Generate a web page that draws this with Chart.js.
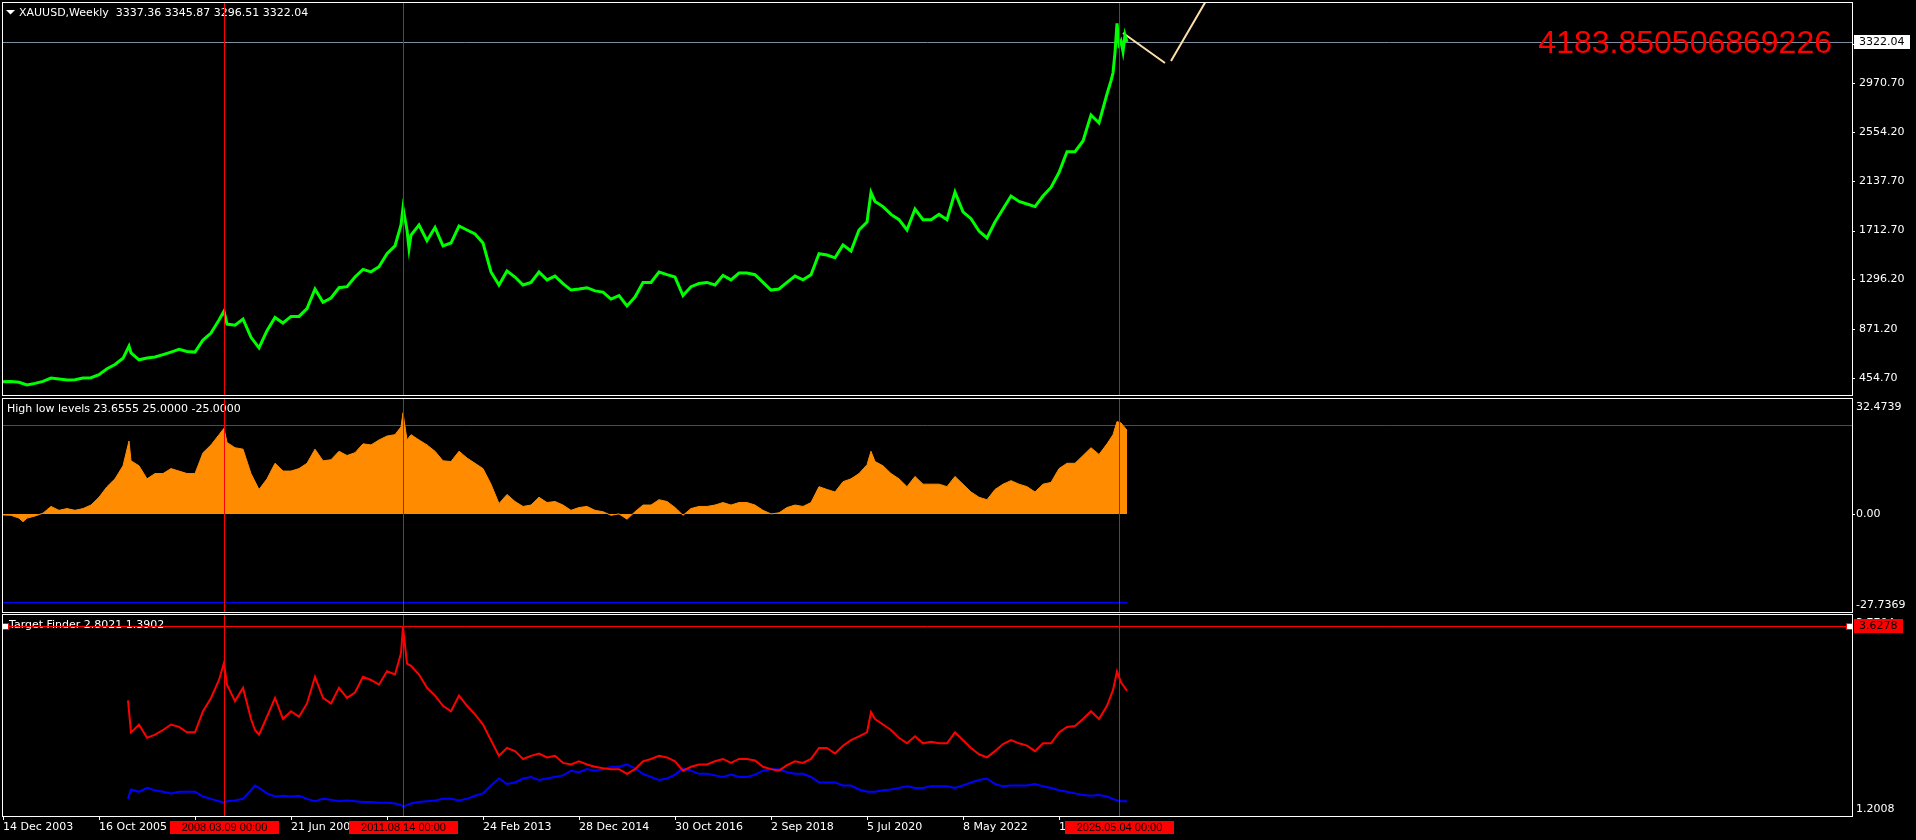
<!DOCTYPE html>
<html><head><meta charset="utf-8">
<script src="https://cdn.jsdelivr.net/npm/chart.js@4.4.1/dist/chart.umd.min.js"></script>
<style>
html,body{margin:0;padding:0;background:#000;width:1916px;height:840px;overflow:hidden}
canvas{position:absolute;left:0;display:block}
</style></head><body>
<canvas id="p1" width="1916" height="396" style="top:0px"></canvas>
<canvas id="p2" width="1916" height="218" style="top:396px"></canvas>
<canvas id="p3" width="1916" height="226" style="top:614px"></canvas>
<script>
// ---------- DATA ----------
const symbolTitle = "XAUUSD,Weekly";
const lastBarOHLC = [3337.36, 3345.87, 3296.51, 3322.04];

const priceWeeks = [0,8,16,24,32,40,48,56,64,72,80,88,96,104,112,120,126,128,136,144,152,160,168,176,184,192,200,208,216,221,224,232,240,248,256,264,272,280,288,296,304,312,320,328,336,344,352,360,368,376,384,392,398,400,404,406,408,416,424,432,440,448,456,464,472,480,488,496,504,512,520,528,536,544,552,560,568,576,584,592,600,608,616,624,632,640,648,656,664,672,680,688,696,704,712,720,728,736,744,752,760,768,776,784,792,800,808,816,824,832,840,848,856,864,868,872,880,888,896,904,912,920,928,936,944,952,960,968,976,984,992,1000,1008,1016,1024,1032,1040,1048,1056,1064,1072,1080,1088,1096,1104,1108,1110,1112,1114,1116,1118,1120,1122,1124];
const priceValues = [422,426,418,395,409,426,455,447,438,440,455,458,484,534,570,623,727,670,610,625,634,654,676,699,681,676,779,838,949,1026,915,906,958,802,712,859,971,924,980,980,1047,1214,1100,1137,1225,1234,1316,1381,1360,1404,1515,1582,1760,1905,1717,1560,1674,1760,1626,1738,1582,1606,1751,1717,1683,1606,1359,1248,1367,1316,1248,1270,1359,1292,1324,1260,1205,1214,1225,1198,1188,1128,1158,1069,1145,1270,1270,1359,1336,1316,1158,1234,1261,1270,1248,1330,1292,1350,1350,1336,1270,1205,1214,1270,1324,1292,1336,1515,1504,1480,1590,1538,1717,1785,2037,1961,1917,1850,1805,1717,1896,1805,1805,1850,1805,2040,1872,1814,1708,1649,1785,1896,2007,1961,1939,1917,2007,2080,2207,2385,2385,2476,2698,2630,2877,2990,3056,3230,3480,3300,3330,3240,3380,3322.04];
const priceRange = [310, 3653];
const priceTickValues = [454.7, 871.2, 1296.2, 1712.7, 2137.7, 2554.2, 2970.7, 3305.7];

const projWeeks = [1120, 1162, 1165, 1168, 1238];
const projValues = [3397, 3141, null, 3158, 4183.850506869226];
const targetText = "4183.850506869226";

const hlWeeks = [0,8,16,20,24,32,40,48,56,64,72,80,88,96,104,112,120,126,128,136,144,152,160,168,176,184,192,200,208,216,221,224,232,240,248,256,264,272,280,288,296,304,312,320,328,336,344,352,360,368,376,384,392,398,400,404,408,416,424,432,440,448,456,464,472,480,488,496,504,512,520,528,536,544,552,560,568,576,584,592,600,608,616,624,632,640,648,656,664,672,680,688,696,704,712,720,728,736,744,752,760,768,776,784,792,800,808,816,824,832,840,848,856,864,868,872,880,888,896,904,912,920,928,936,944,952,960,968,976,984,992,1000,1008,1016,1024,1032,1040,1048,1056,1064,1072,1080,1088,1096,1104,1110,1114,1118,1124];
const hlValues = [-0.3,-0.4,-1.2,-2.2,-1.2,-0.6,0.2,2.1,1.0,1.5,1.0,1.5,2.5,4.7,7.7,9.9,13.6,20.6,15.0,13.6,9.9,11.4,11.4,12.8,12.1,11.4,11.4,17.3,19.5,22.4,24.2,20.2,18.7,18.3,11.4,6.9,9.9,14.3,12.1,12.1,12.8,14.3,18.3,15.0,15.3,17.7,16.5,17.3,19.8,19.5,20.9,22.0,22.4,24.6,28.6,20.9,22.4,20.9,19.5,17.7,15.0,14.8,17.7,15.8,14.3,12.8,8.4,2.9,5.5,3.5,2.1,2.5,4.7,3.2,3.5,2.5,1.0,1.8,2.1,1.0,0.6,-0.4,0.0,-1.5,0.6,2.5,2.5,4.0,3.5,1.8,-0.4,1.5,2.1,2.1,2.5,3.2,2.5,3.2,3.2,2.5,1.0,0.0,0.3,1.8,2.5,2.1,3.2,7.7,6.9,6.2,9.1,9.9,11.4,13.9,17.7,14.8,13.6,11.4,9.9,7.7,10.6,8.4,8.4,8.4,7.7,10.6,8.4,6.2,4.7,4.0,6.9,8.4,9.4,8.4,7.7,6.2,8.4,8.9,12.8,14.3,14.3,16.5,18.7,16.8,19.8,22.4,26.1,25.7,23.6555];
const hlLevels = [25, -25];
const hlRange = [-27.7369, 32.4739];
const hlTickValues = [32.4739, 0, -27.7369];
const hlTickLabels = ["32.4739", "0.00", "-27.7369"];

const tfWeeks = [125,128,136,144,152,160,168,176,184,192,200,208,216,221,224,232,240,248,252,256,264,272,280,288,296,304,312,320,328,336,344,352,360,368,376,384,392,398,400,404,408,416,424,432,440,448,456,464,472,480,488,496,504,512,520,528,536,544,552,560,568,576,584,592,600,608,616,624,632,640,648,656,664,672,680,688,696,704,712,720,728,736,744,752,760,768,776,784,792,800,808,816,824,832,840,848,856,864,868,872,880,888,896,904,912,920,928,936,944,952,960,968,976,984,992,1000,1008,1016,1024,1032,1040,1048,1056,1064,1072,1080,1088,1096,1104,1110,1114,1118,1124];
const tfRed = [2.68,2.27,2.37,2.20,2.24,2.30,2.37,2.34,2.27,2.27,2.54,2.71,2.94,3.16,2.88,2.67,2.84,2.44,2.30,2.24,2.47,2.71,2.44,2.54,2.47,2.64,2.98,2.71,2.64,2.84,2.71,2.78,2.98,2.94,2.88,3.05,3.01,3.28,3.62,3.15,3.12,3.01,2.84,2.74,2.61,2.54,2.74,2.61,2.50,2.37,2.17,1.97,2.07,2.03,1.93,1.97,2.00,1.95,1.97,1.88,1.86,1.90,1.86,1.83,1.81,1.80,1.80,1.74,1.80,1.90,1.93,1.97,1.95,1.90,1.78,1.83,1.86,1.86,1.90,1.93,1.88,1.93,1.93,1.91,1.83,1.80,1.78,1.85,1.90,1.88,1.93,2.07,2.07,2.00,2.10,2.17,2.22,2.27,2.53,2.44,2.37,2.30,2.20,2.13,2.22,2.13,2.15,2.13,2.13,2.27,2.17,2.07,1.99,1.95,2.03,2.12,2.17,2.13,2.10,2.03,2.13,2.13,2.27,2.34,2.35,2.44,2.54,2.44,2.61,2.81,3.05,2.91,2.8021];
const tfBlue = [1.42,1.54,1.51,1.56,1.53,1.51,1.49,1.51,1.51,1.51,1.45,1.42,1.39,1.37,1.39,1.40,1.42,1.53,1.59,1.56,1.49,1.45,1.46,1.45,1.46,1.42,1.39,1.42,1.41,1.39,1.40,1.39,1.38,1.38,1.37,1.37,1.36,1.34,1.32,1.34,1.36,1.38,1.39,1.40,1.42,1.42,1.40,1.42,1.46,1.49,1.59,1.68,1.61,1.63,1.68,1.70,1.66,1.68,1.70,1.72,1.78,1.76,1.80,1.78,1.80,1.83,1.83,1.86,1.81,1.74,1.70,1.66,1.68,1.73,1.81,1.78,1.74,1.74,1.72,1.70,1.73,1.70,1.70,1.73,1.78,1.80,1.80,1.76,1.74,1.74,1.70,1.63,1.63,1.63,1.59,1.59,1.54,1.51,1.51,1.51,1.53,1.54,1.56,1.58,1.56,1.56,1.58,1.58,1.58,1.56,1.59,1.63,1.66,1.68,1.61,1.58,1.59,1.59,1.59,1.61,1.58,1.56,1.53,1.51,1.49,1.47,1.46,1.47,1.45,1.42,1.40,1.39,1.3902];
const tfLineLevel = 3.6278;
const tfRange = [1.2008, 3.7704];
const tfTickValues = [3.7704, 1.2008];
const tfTickLabels = ["3.7704", "1.2008"];

const markerWeeks = [221, 400, 1116];
const markerLabels = ["2008.03.09 00:00", "2011.08.14 00:00", "2025.05.04 00:00"];
const timeTickWeeks = [0,96,192,288,384,480,576,672,768,864,960,1056];
const timeTickLabels = ["14 Dec 2003","16 Oct 2005","19 Aug 2007","21 Jun 2009","24 Apr 2011","24 Feb 2013","28 Dec 2014","30 Oct 2016","2 Sep 2018","5 Jul 2020","8 May 2022","10 Mar 2024"];
const weekRange = [0, 1849];

// ---------- HELPERS ----------
const FONT = '11px "DejaVu Sans"';
const pts = (xs, ys) => xs.map((x, i) => ({x: x, y: ys[i]}));

function frame(chart) {
  const {ctx, chartArea: a} = chart;
  ctx.save(); ctx.strokeStyle = '#fff'; ctx.lineWidth = 1;
  ctx.strokeRect(a.left - 0.5, a.top - 0.5, a.right - a.left + 1, a.bottom - a.top + 1);
  ctx.restore();
}
function vlines(chart) {
  const {ctx, chartArea: a, scales: {x}} = chart;
  ctx.save(); ctx.strokeStyle = '#ff0000'; ctx.lineWidth = 1;
  markerWeeks.forEach(w => {
    const px = Math.round(x.getPixelForValue(w)) + 0.5;
    ctx.beginPath(); ctx.moveTo(px, a.top); ctx.lineTo(px, a.bottom); ctx.stroke();
  });
  ctx.restore();
}
function hline(chart, v, color, w0, w1) {
  const {ctx, chartArea: a, scales: {x, y}} = chart;
  const py = Math.round(y.getPixelForValue(v)) + 0.5;
  const x0 = w0 === undefined ? a.left : Math.max(a.left, x.getPixelForValue(w0));
  const x1 = w1 === undefined ? a.right : Math.min(a.right, x.getPixelForValue(w1));
  ctx.save(); ctx.strokeStyle = color; ctx.lineWidth = 1;
  ctx.beginPath(); ctx.moveTo(x0, py); ctx.lineTo(x1, py); ctx.stroke(); ctx.restore();
  return py;
}
function yLabels(chart, values, labels, tx) {
  const {ctx, chartArea: a, scales: {y}} = chart;
  ctx.save(); ctx.font = FONT; ctx.fillStyle = '#fff'; ctx.textBaseline = 'middle'; ctx.textAlign = 'left';
  values.forEach((v, i) => {
    const py = y.getPixelForValue(v);
    const cy = Math.min(Math.max(py, a.top + 8), a.bottom - 7);
    if (cy === py) ctx.fillRect(a.right + 1, Math.round(py), 2, 1);
    ctx.fillText(labels[i], tx, cy);
  });
  ctx.restore();
}
function text(ctx, s, x, y, color, font, align) {
  ctx.save(); ctx.font = font || FONT; ctx.fillStyle = color || '#fff';
  ctx.textBaseline = 'middle'; ctx.textAlign = align || 'left'; ctx.fillText(s, x, y); ctx.restore();
}
function valueBox(ctx, label, x0, x1, cy, bg) {
  ctx.save(); ctx.fillStyle = bg; ctx.fillRect(x0, Math.round(cy) - 7, x1 - x0, 14);
  ctx.font = FONT; ctx.fillStyle = '#000'; ctx.textBaseline = 'middle'; ctx.textAlign = 'left';
  ctx.fillText(label, x0 + 5, Math.round(cy)); ctx.restore();
}
function baseOptions(yMin, yMax, pad) {
  return {
    responsive: false, animation: false, devicePixelRatio: 1, events: [],
    layout: {padding: pad},
    plugins: {legend: {display: false}, tooltip: {enabled: false}},
    elements: {point: {radius: 0}, line: {tension: 0}},
    scales: {
      x: {type: 'linear', min: weekRange[0], max: weekRange[1], display: false},
      y: {type: 'linear', position: 'right', min: yMin, max: yMax,
          afterFit(s) { s.width = 64; },
          ticks: {display: false}, grid: {display: false}, border: {display: false}}
    }
  };
}

// ---------- PANEL 1: price ----------
new Chart(document.getElementById('p1'), {
  type: 'line',
  data: {datasets: [
    {data: pts(priceWeeks, priceValues), borderColor: '#00ff00', borderWidth: 3, pointRadius: 0},
    {data: pts(projWeeks, projValues), borderColor: '#ffdead', borderWidth: 2, pointRadius: 0, spanGaps: false}
  ]},
  options: baseOptions(priceRange[0], priceRange[1], {left: 3, top: 3, right: 0, bottom: 1}),
  plugins: [{
    id: 'mt1',
    beforeDatasetsDraw(chart) { hline(chart, lastBarOHLC[3], '#7f8fa0'); },
    afterDatasetsDraw(chart) {
      const ctx = chart.ctx;
      ctx.save(); ctx.fillStyle = '#fff'; ctx.beginPath();
      ctx.moveTo(6, 10); ctx.lineTo(15, 10); ctx.lineTo(10.5, 14.5); ctx.closePath(); ctx.fill(); ctx.restore();
      text(ctx, symbolTitle + '  ' + lastBarOHLC.map(v => v.toFixed(2)).join(' '), 19, 13);
      ctx.save(); ctx.font = '32px "Liberation Sans"'; ctx.fillStyle = '#ff0000';
      ctx.textAlign = 'right'; ctx.textBaseline = 'alphabetic'; ctx.fillText(targetText, 1832, 53); ctx.restore();
      vlines(chart);
    },
    afterDraw(chart) {
      frame(chart);
      yLabels(chart, priceTickValues, priceTickValues.map(v => v.toFixed(2)), 1859);
      valueBox(chart.ctx, lastBarOHLC[3].toFixed(2), 1854, 1910, chart.scales.y.getPixelForValue(lastBarOHLC[3]), '#fff');
    }
  }]
});

// ---------- PANEL 2: High low levels ----------
new Chart(document.getElementById('p2'), {
  type: 'line',
  data: {datasets: [
    {data: pts(hlWeeks, hlValues), borderColor: '#ff8c00', backgroundColor: '#ff8c00', fill: 'origin', borderWidth: 1, pointRadius: 0}
  ]},
  options: baseOptions(hlRange[0], hlRange[1], {left: 3, top: 3, right: 0, bottom: 2}),
  plugins: [{
    id: 'mt2',
    beforeDatasetsDraw(chart) {
      hline(chart, hlLevels[0], '#ff0000');
      hline(chart, hlLevels[1], '#0000ff', hlWeeks[0], hlWeeks[hlWeeks.length - 1]);
    },
    afterDatasetsDraw(chart) {
      text(chart.ctx, 'High low levels ' + hlValues[hlValues.length - 1].toFixed(4) + ' ' +
        hlLevels.map(v => v.toFixed(4)).join(' '), 7, 13);
      vlines(chart);
    },
    afterDraw(chart) {
      frame(chart);
      yLabels(chart, hlTickValues, hlTickLabels, 1856);
    }
  }]
});

// ---------- PANEL 3: Target Finder ----------
const opt3 = baseOptions(tfRange[0], tfRange[1], {left: 3, top: 1, right: 0, bottom: 0});
opt3.scales.x = {
  type: 'linear', min: weekRange[0], max: weekRange[1], position: 'bottom',
  afterBuildTicks(s) { s.ticks = timeTickWeeks.map(v => ({value: v})); },
  afterFit(s) { s.height = 24; },
  ticks: {color: '#fff', font: {family: 'DejaVu Sans', size: 11}, align: 'start', padding: 1,
          autoSkip: false, maxRotation: 0, minRotation: 0, callback: (v, i) => timeTickLabels[i]},
  grid: {display: true, drawOnChartArea: false, drawTicks: true, tickLength: 4, color: '#fff', lineWidth: 1},
  border: {display: false}
};
new Chart(document.getElementById('p3'), {
  type: 'line',
  data: {datasets: [
    {data: pts(tfWeeks, tfRed), borderColor: '#ff0000', borderWidth: 2, pointRadius: 0},
    {data: pts(tfWeeks, tfBlue), borderColor: '#0000ff', borderWidth: 2, pointRadius: 0}
  ]},
  options: opt3,
  plugins: [{
    id: 'mt3',
    afterDatasetsDraw(chart) {
      text(chart.ctx, 'Target Finder ' + tfRed[tfRed.length - 1].toFixed(4) + ' ' + tfBlue[tfBlue.length - 1].toFixed(4), 9, 11);
      vlines(chart);
      const py = hline(chart, tfLineLevel, '#ff0000');
      const ctx = chart.ctx, a = chart.chartArea;
      ctx.save(); ctx.fillStyle = '#fff'; ctx.strokeStyle = '#ff0000'; ctx.lineWidth = 1;
      [a.left + 2, a.right - 3].forEach(px => { ctx.fillRect(px - 2, py - 2.5, 5, 5); ctx.strokeRect(px - 2.5, py - 3, 6, 6); });
      ctx.restore();
    },
    afterDraw(chart) {
      frame(chart);
      yLabels(chart, tfTickValues, tfTickLabels, 1856);
      valueBox(chart.ctx, tfLineLevel.toFixed(4), 1854, 1903, chart.scales.y.getPixelForValue(tfLineLevel), '#ff0000');
      const ctx = chart.ctx, x = chart.scales.x, a = chart.chartArea;
      markerWeeks.forEach((w, i) => {
        const px = Math.round(x.getPixelForValue(w));
        ctx.save(); ctx.fillStyle = '#ff0000'; ctx.fillRect(px - 54, a.bottom + 5, 109, 13);
        ctx.font = '11px "Liberation Sans"'; ctx.fillStyle = '#000'; ctx.textAlign = 'center'; ctx.textBaseline = 'middle';
        ctx.fillText(markerLabels[i], px + 0.5, a.bottom + 11.5); ctx.restore();
      });
    }
  }]
});
</script>
</body></html>
